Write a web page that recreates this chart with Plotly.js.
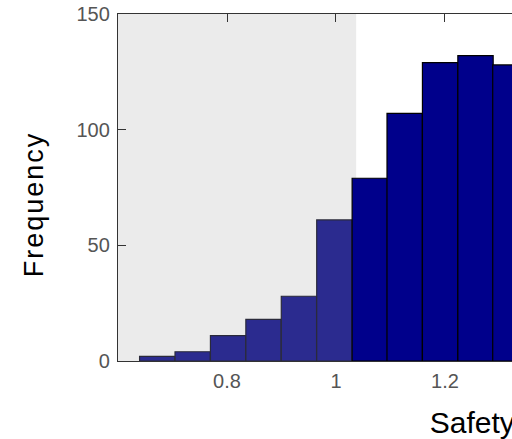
<!DOCTYPE html>
<html>
<head>
<meta charset="utf-8">
<script src="https://cdn.plot.ly/plotly-3.0.1.min.js"></script>
<style>
html, body { margin: 0; padding: 0; overflow: hidden; background: #fff; width: 512px; height: 439px; }
#chart { width: 940px; height: 439px; }
.ytitle { letter-spacing: 2px; }
</style>
</head>
<body>
<div id="chart"></div>
<script>
// Histogram data
const binCenters = [0.672, 0.737, 0.802, 0.867, 0.932, 0.997, 1.062, 1.126, 1.191, 1.256, 1.320];
const counts     = [2, 4, 11, 18, 28, 61, 79, 107, 129, 132, 128];
const binWidth = 0.0648;
const shadeLimit = 1.037;
const xTickVals = [0.8, 1.0, 1.2];
const yTickVals = [0, 50, 100, 150];

const barColors = binCenters.map(c => c < shadeLimit ? '#2b2b8f' : '#00008b');
const lineColors = binCenters.map(c => c < shadeLimit ? '#2a2a3a' : '#000000');

const trace = {
  type: 'bar',
  x: binCenters,
  y: counts,
  width: binCenters.map(() => binWidth),
  marker: { color: barColors, line: { color: lineColors, width: 1.2 } },
  hoverinfo: 'skip'
};

const tickFont = { family: 'Liberation Sans, Arial, sans-serif', size: 20, color: '#555555' };

const layout = {
  width: 940,
  height: 439,
  margin: { l: 118, r: 20, t: 14, b: 78 },
  paper_bgcolor: '#ffffff',
  plot_bgcolor: '#ffffff',
  showlegend: false,
  bargap: 0,
  xaxis: {
    range: [0.6, 2.0716],
    tickvals: xTickVals,
    ticks: 'inside',
    ticklen: 8,
    tickcolor: '#333333',
    showline: true,
    linecolor: '#333333',
    linewidth: 1.2,
    mirror: 'ticks',
    showgrid: false,
    zeroline: false,
    layer: 'below traces',
    tickfont: tickFont,
    ticklabelstandoff: 2,
    title: { text: 'Safety Factor', font: { family: 'Liberation Sans, Arial, sans-serif', size: 30, color: '#000000' }, standoff: 20 }
  },
  yaxis: {
    range: [0, 150],
    tickvals: yTickVals,
    ticks: 'inside',
    ticklen: 8,
    tickcolor: '#333333',
    showline: true,
    linecolor: '#333333',
    linewidth: 1.2,
    mirror: 'ticks',
    showgrid: false,
    zeroline: false,
    layer: 'below traces',
    tickfont: tickFont,
    ticklabelstandoff: 3,
    title: { text: 'Frequency', font: { family: 'Liberation Sans, Arial, sans-serif', size: 27, color: '#000000' }, standoff: 25 }
  },
  shapes: [{
    type: 'rect', layer: 'below', xref: 'x', yref: 'y',
    x0: 0.6, x1: shadeLimit, y0: 0, y1: 150,
    fillcolor: '#ebebeb', line: { width: 0 }
  }]
};

Plotly.newPlot('chart', [trace], layout, { displayModeBar: false, staticPlot: true }).then(gd => {
  // the reference's y title sits a little below the plot's centre
  const t = gd.querySelector('.ytitle');
  if (t) {
    const x = parseFloat(t.getAttribute('x'));
    const y = parseFloat(t.getAttribute('y')) + 17;
    t.setAttribute('y', y);
    t.setAttribute('transform', 'rotate(-90,' + x + ',' + y + ')');
  }
});
</script>
</body>
</html>
